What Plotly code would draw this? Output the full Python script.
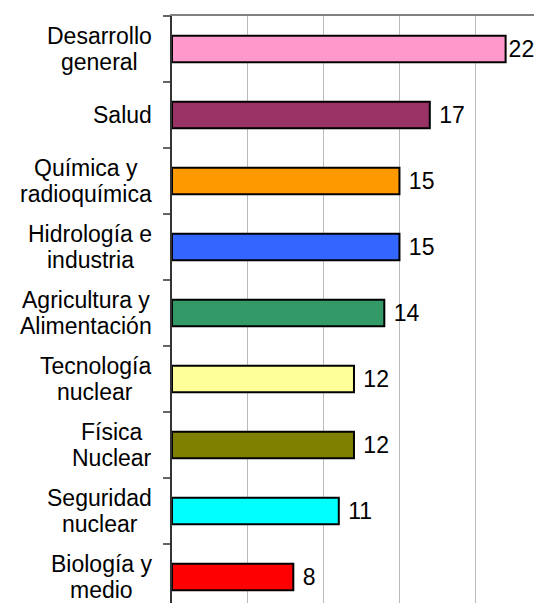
import plotly.graph_objects as go

categories = ["Desarrollo<br>general", "Salud", "Química y<br>radioquímica",
              "Hidrología e<br>industria", "Agricultura y<br>Alimentación",
              "Tecnología<br>nuclear", "Física<br>Nuclear", "Seguridad<br>nuclear",
              "Biología y<br>medio"]
values = [22, 17, 15, 15, 14, 12, 12, 11, 8]
colors = ["#FF99CC", "#993366", "#FF9900", "#3366FF", "#339966",
          "#FFFF99", "#808000", "#00FFFF", "#FF0000"]

FONT = "Liberation Sans, Arial, sans-serif"
LABEL_SIZE = 23
LINE_GAP = 25.3  # px between baselines of two-line labels

# Arial / Liberation Sans advance widths (per 1000 em), used to centre label lines
W = {"D": 722, "e": 556, "s": 500, "a": 556, "r": 333, "o": 556, "l": 222,
     "g": 556, "n": 556, "S": 667, "u": 556, "d": 556, "Q": 778, "í": 278,
     "m": 833, "c": 500, "y": 500, " ": 278, "i": 222, "H": 722, "h": 556,
     "I": 278, "A": 667, "t": 278, "ó": 556, "T": 611, "F": 611, "N": 722,
     "B": 667, "q": 556}


def text_width(s):
    return sum(W.get(ch, 556) for ch in s) * LABEL_SIZE / 1000.0


vmax = max(values)
value_text = [("" if v == vmax else " ") + str(v) for v in values]

fig = go.Figure(go.Bar(
    x=values, y=categories, orientation="h",
    marker=dict(color=colors, line=dict(color="black", width=2)),
    text=value_text, textposition="outside",
    textfont=dict(family=FONT, size=23, color="black"),
    constraintext="none",
    cliponaxis=False,
))

GAP = 20  # px between label block and axis
for c in categories:
    lines = c.split("<br>")
    widest = max(text_width(l) for l in lines)
    n = len(lines)
    for i, l in enumerate(lines):
        shift = (n - 1) / 2 * LINE_GAP - i * LINE_GAP
        fig.add_annotation(x=0, xref="paper", xanchor="center",
                           xshift=-(GAP + widest / 2),
                           y=c, yref="y", yanchor="middle", yshift=shift,
                           text=l, showarrow=False,
                           font=dict(family=FONT, size=LABEL_SIZE, color="black"))

fig.update_layout(
    width=534, height=595,
    margin=dict(l=164, r=0, t=8, b=0),
    paper_bgcolor="white", plot_bgcolor="white",
    bargap=0.6, showlegend=False,
    xaxis=dict(range=[0, 24.4], side="top", showline=True, linecolor="#808080",
               linewidth=1.5, showticklabels=False, ticks="",
               showgrid=True, gridcolor="#BBBBBB", gridwidth=1, dtick=5,
               zeroline=False),
    yaxis=dict(range=[8.394, -0.5], showline=True, linecolor="#333333",
               linewidth=2, ticks="outside", ticklen=7, tickcolor="#666666",
               tickwidth=1.5, tickson="boundaries", showticklabels=False,
               showgrid=False),
)

fig.write_html("out.html")
